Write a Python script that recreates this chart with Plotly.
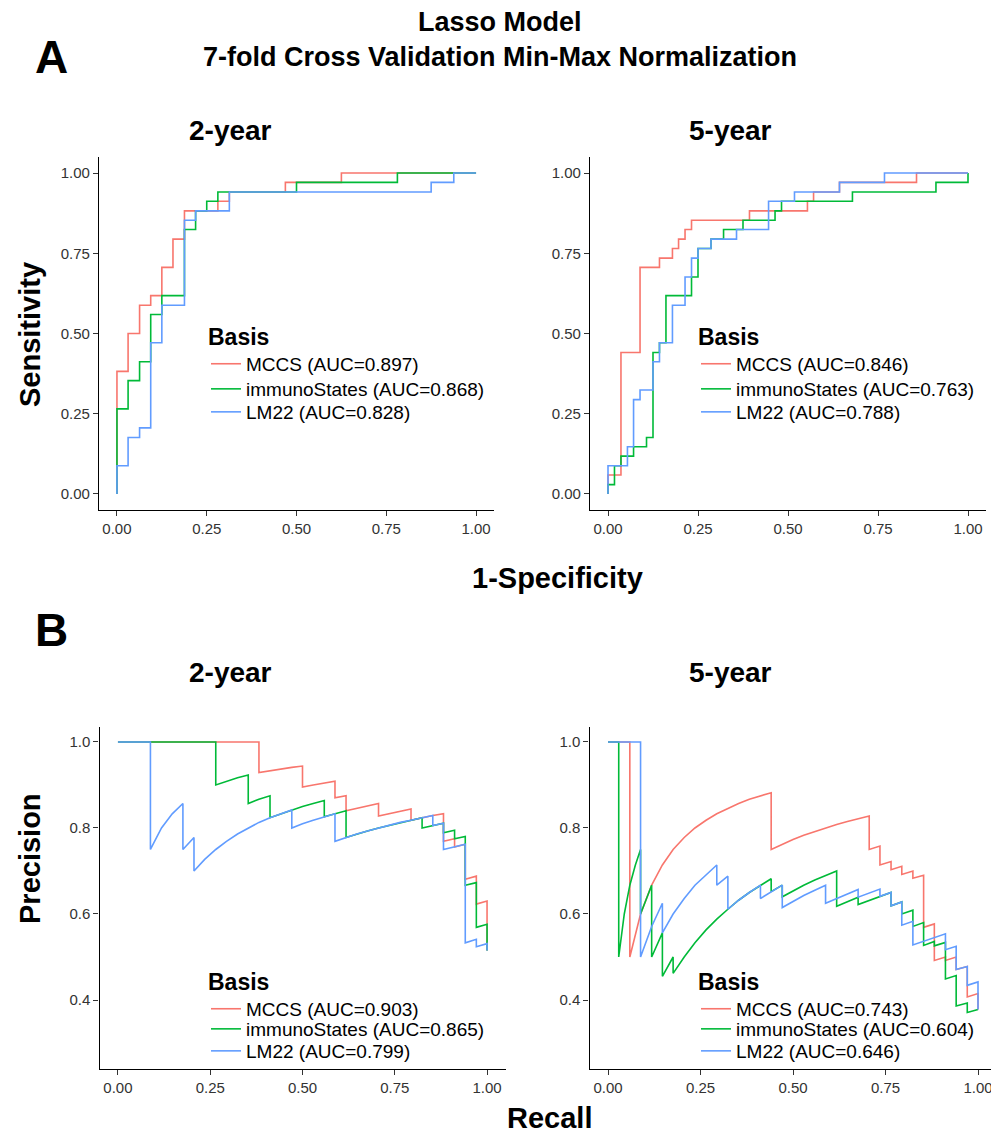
import plotly.graph_objects as go

# page offset of the plot inside the browser page (default body margin)
OFF = 8
W, H = 999 - OFF, 1139 - OFF

# ---------------- data ----------------
series_names = ["MCCS", "immunoStates", "LM22"]
series_colors = ["#F8766D", "#00BA38", "#619CFF"]

auc_roc_2y = [0.897, 0.868, 0.828]
auc_roc_5y = [0.846, 0.763, 0.788]
auc_pr_2y = [0.903, 0.865, 0.799]
auc_pr_5y = [0.743, 0.604, 0.646]

# ROC, 2-year (step curves: 1-specificity, sensitivity)
roc2_fpr_mccs = [0, 0, 0.031, 0.063, 0.094, 0.125, 0.156, 0.188, 0.281, 0.313, 0.469, 0.625, 1.0]
roc2_tpr_mccs = [0, 0.382, 0.5, 0.588, 0.618, 0.706, 0.794, 0.882, 0.912, 0.941, 0.971, 1.0, 1.0]
roc2_fpr_immuno = [0, 0, 0.031, 0.063, 0.094, 0.125, 0.188, 0.219, 0.25, 0.281, 0.5, 0.781, 1.0]
roc2_tpr_immuno = [0, 0.265, 0.353, 0.412, 0.559, 0.618, 0.824, 0.882, 0.912, 0.941, 0.971, 1.0, 1.0]
roc2_fpr_lm22 = [0, 0, 0.031, 0.063, 0.094, 0.125, 0.188, 0.219, 0.313, 0.875, 0.938, 1.0]
roc2_tpr_lm22 = [0, 0.088, 0.176, 0.206, 0.471, 0.588, 0.853, 0.882, 0.941, 0.971, 1.0, 1.0]

# ROC, 5-year
roc5_fpr_mccs = [0, 0, 0.036, 0.089, 0.143, 0.179, 0.196, 0.214, 0.232, 0.393, 0.554, 0.571, 0.643, 0.857, 1.0]
roc5_tpr_mccs = [0, 0.059, 0.441, 0.706, 0.735, 0.765, 0.794, 0.824, 0.853, 0.882, 0.912, 0.941, 0.971, 1.0, 1.0]
roc5_fpr_immuno = [0, 0, 0.018, 0.036, 0.071, 0.107, 0.125, 0.143, 0.161, 0.232, 0.25, 0.286, 0.321, 0.375,
                   0.464, 0.482, 0.679, 0.911, 1.0]
roc5_tpr_immuno = [0, 0.029, 0.088, 0.118, 0.147, 0.176, 0.441, 0.471, 0.618, 0.676, 0.765, 0.794, 0.824, 0.853,
                   0.882, 0.912, 0.941, 0.971, 1.0]
roc5_fpr_lm22 = [0, 0, 0.054, 0.071, 0.089, 0.125, 0.143, 0.179, 0.214, 0.232, 0.25, 0.286, 0.357, 0.446,
                 0.518, 0.643, 0.768, 1.0]
roc5_tpr_lm22 = [0, 0.088, 0.147, 0.294, 0.324, 0.412, 0.471, 0.588, 0.676, 0.735, 0.765, 0.794, 0.824, 0.912,
                 0.941, 0.971, 1.0, 1.0]

# Precision-recall, 2-year
pr2_rec_mccs = [0, 0.382, 0.382, 0.412, 0.441, 0.471, 0.5, 0.5, 0.529, 0.559, 0.588, 0.588, 0.618, 0.618,
                0.647, 0.676, 0.706, 0.706, 0.735, 0.765, 0.794, 0.794, 0.824, 0.853, 0.882, 0.882, 0.912,
                0.912, 0.941, 0.941, 0.971, 0.971, 1.0, 1.0]
pr2_prec_mccs = [1.0, 1.0, 0.929, 0.933, 0.938, 0.941, 0.944, 0.895, 0.9, 0.905, 0.909, 0.870, 0.875, 0.84,
                 0.846, 0.852, 0.857, 0.828, 0.833, 0.839, 0.844, 0.818, 0.824, 0.829, 0.833, 0.769, 0.775,
                 0.756, 0.762, 0.681, 0.688, 0.623, 0.630, 0.515]
pr2_rec_immuno = [0, 0.265, 0.265, 0.294, 0.324, 0.353, 0.353, 0.382, 0.412, 0.412, 0.441, 0.471, 0.5, 0.529,
                  0.559, 0.559, 0.588, 0.618, 0.618, 0.647, 0.676, 0.706, 0.735, 0.765, 0.794, 0.824, 0.824,
                  0.853, 0.882, 0.882, 0.912, 0.912, 0.941, 0.941, 0.971, 0.971, 1.0, 1.0]
pr2_prec_immuno = [1.0, 1.0, 0.9, 0.909, 0.917, 0.923, 0.857, 0.867, 0.875, 0.824, 0.833, 0.842, 0.85, 0.857,
                   0.864, 0.826, 0.833, 0.84, 0.778, 0.786, 0.793, 0.8, 0.806, 0.813, 0.818, 0.824, 0.8,
                   0.806, 0.811, 0.789, 0.795, 0.775, 0.780, 0.667, 0.673, 0.569, 0.576, 0.515]
pr2_rec_lm22 = [0, 0.088, 0.088, 0.118, 0.147, 0.176, 0.176, 0.206, 0.206, 0.235, 0.265, 0.294, 0.324, 0.353,
                0.382, 0.412, 0.441, 0.471, 0.471, 0.5, 0.529, 0.559, 0.588, 0.588, 0.618, 0.647, 0.676,
                0.706, 0.735, 0.765, 0.794, 0.824, 0.853, 0.853, 0.882, 0.882, 0.912, 0.941, 0.941, 0.971,
                0.971, 1.0, 1.0]
pr2_prec_lm22 = [1.0, 1.0, 0.75, 0.8, 0.833, 0.857, 0.75, 0.778, 0.7, 0.727, 0.75, 0.769, 0.786, 0.8,
                 0.813, 0.824, 0.833, 0.842, 0.8, 0.81, 0.818, 0.826, 0.833, 0.769, 0.778, 0.786, 0.793,
                 0.8, 0.806, 0.813, 0.818, 0.824, 0.829, 0.806, 0.811, 0.75, 0.756, 0.762, 0.533, 0.541,
                 0.524, 0.531, 0.515]

# Precision-recall, 5-year
pr5_rec_mccs = [0, 0.059, 0.059, 0.088, 0.118, 0.147, 0.176, 0.206, 0.235, 0.265, 0.294, 0.324, 0.353,
                0.382, 0.412, 0.441, 0.441, 0.471, 0.5, 0.529, 0.559, 0.588, 0.618, 0.647, 0.676, 0.706,
                0.706, 0.735, 0.735, 0.765, 0.765, 0.794, 0.794, 0.824, 0.824, 0.853, 0.853, 0.882, 0.882,
                0.912, 0.912, 0.941, 0.941, 0.971, 0.971, 1.0, 1.0]
pr5_prec_mccs = [1.0, 1.0, 0.5, 0.6, 0.667, 0.714, 0.75, 0.778, 0.8, 0.818, 0.833, 0.846, 0.857,
                 0.867, 0.875, 0.882, 0.75, 0.762, 0.773, 0.783, 0.792, 0.8, 0.808, 0.815, 0.821, 0.828,
                 0.75, 0.758, 0.714, 0.722, 0.703, 0.711, 0.692, 0.7, 0.683, 0.690, 0.569, 0.577, 0.492,
                 0.5, 0.492, 0.5, 0.471, 0.478, 0.407, 0.415, 0.378]
pr5_rec_immuno = [0, 0.029, 0.029, 0.044, 0.059, 0.074, 0.088, 0.088, 0.118, 0.118, 0.147, 0.147, 0.176,
                  0.176, 0.206, 0.235, 0.265, 0.294, 0.324, 0.353, 0.382, 0.412, 0.441, 0.441, 0.471, 0.471,
                  0.5, 0.529, 0.559, 0.588, 0.618, 0.618, 0.647, 0.676, 0.676, 0.706, 0.735, 0.765, 0.765,
                  0.794, 0.794, 0.824, 0.824, 0.853, 0.853, 0.882, 0.882, 0.912, 0.912, 0.941, 0.941, 0.971,
                  0.971, 1.0]
pr5_prec_immuno = [1.0, 1.0, 0.5, 0.6, 0.667, 0.714, 0.75, 0.6, 0.667, 0.5, 0.556, 0.455, 0.5,
                   0.462, 0.5, 0.533, 0.563, 0.588, 0.611, 0.632, 0.65, 0.667, 0.682, 0.652, 0.667, 0.64,
                   0.654, 0.667, 0.679, 0.690, 0.7, 0.618, 0.629, 0.639, 0.622, 0.632, 0.641, 0.65, 0.619,
                   0.628, 0.6, 0.609, 0.571, 0.58, 0.527, 0.536, 0.526, 0.534, 0.449, 0.457, 0.386, 0.393,
                   0.371, 0.378]
pr5_rec_lm22 = [0, 0.088, 0.088, 0.118, 0.147, 0.147, 0.176, 0.206, 0.235, 0.265, 0.294, 0.294, 0.324,
                0.324, 0.353, 0.382, 0.412, 0.412, 0.441, 0.471, 0.471, 0.5, 0.529, 0.559, 0.588, 0.588,
                0.618, 0.647, 0.676, 0.676, 0.706, 0.735, 0.735, 0.765, 0.765, 0.794, 0.794, 0.824, 0.824,
                0.853, 0.882, 0.912, 0.912, 0.941, 0.941, 0.971, 0.971, 1.0, 1.0]
pr5_prec_lm22 = [1.0, 1.0, 0.5, 0.571, 0.625, 0.556, 0.6, 0.636, 0.667, 0.692, 0.714, 0.667, 0.688,
                 0.611, 0.632, 0.65, 0.667, 0.636, 0.652, 0.667, 0.615, 0.630, 0.643, 0.655, 0.667, 0.625,
                 0.636, 0.647, 0.657, 0.639, 0.649, 0.658, 0.641, 0.65, 0.619, 0.628, 0.574, 0.583, 0.528,
                 0.537, 0.545, 0.554, 0.517, 0.525, 0.471, 0.478, 0.434, 0.442, 0.378]

roc_2y = [(roc2_fpr_mccs, roc2_tpr_mccs), (roc2_fpr_immuno, roc2_tpr_immuno), (roc2_fpr_lm22, roc2_tpr_lm22)]
roc_5y = [(roc5_fpr_mccs, roc5_tpr_mccs), (roc5_fpr_immuno, roc5_tpr_immuno), (roc5_fpr_lm22, roc5_tpr_lm22)]
pr_2y = [(pr2_rec_mccs, pr2_prec_mccs), (pr2_rec_immuno, pr2_prec_immuno), (pr2_rec_lm22, pr2_prec_lm22)]
pr_5y = [(pr5_rec_mccs, pr5_prec_mccs), (pr5_rec_immuno, pr5_prec_immuno), (pr5_rec_lm22, pr5_prec_lm22)]

# ---------------- layout helpers ----------------
FONT = "Liberation Sans, Arial, Helvetica, sans-serif"


def fx(p):
    """page pixel x -> paper fraction"""
    return (p - OFF) / W


def fy(p):
    """page pixel y -> paper fraction"""
    return 1 - (p - OFF) / H


fig = go.Figure()

# (data, aucs, axis suffix, shape, legend x (px), first legend top (px), item ys (px))
panels = [
    (roc_2y, auc_roc_2y, "", "hv", 206, 315, [366, 389, 412]),
    (roc_5y, auc_roc_5y, "2", "hv", 696, 315, [366, 389, 412]),
    (pr_2y, auc_pr_2y, "3", "linear", 206, 960, [1007, 1029, 1051]),
    (pr_5y, auc_pr_5y, "4", "linear", 696, 960, [1007, 1029, 1051]),
]

LEG_FONT = dict(family=FONT, size=19, color="black")
legend_layouts = {}
leg_idx = 0
for data, aucs, ax, shape, lx, top, item_ys in panels:
    for k, ((xs, ys), name, col, auc) in enumerate(zip(data, series_names, series_colors, aucs)):
        leg_idx += 1
        leg = "legend" if leg_idx == 1 else f"legend{leg_idx}"
        fig.add_trace(go.Scatter(
            x=xs, y=ys, mode="lines", line=dict(color=col, width=1.6, shape=shape),
            name=f"{name} (AUC={auc:.3f})", legend=leg, showlegend=True,
            xaxis="x" + ax, yaxis="y" + ax,
        ))
        ld = dict(bgcolor="rgba(0,0,0,0)", borderwidth=0, xanchor="left", visible=True,
                  font=LEG_FONT, itemclick=False, itemdoubleclick=False, x=fx(lx))
        if k == 0:
            ld.update(title=dict(text="Basis", font=dict(family=FONT, size=23, color="black", weight="bold")),
                      yanchor="top", y=fy(top))
        else:
            ld.update(yanchor="middle", y=fy(item_ys[k]))
        legend_layouts[leg] = ld

fig.update_layout(showlegend=True, **legend_layouts)

axis_common = dict(
    showgrid=False, zeroline=False, showline=True, linecolor="black", linewidth=1.2,
    ticks="outside", ticklen=5, tickwidth=1.1, tickcolor="#333333",
    tickfont=dict(family=FONT, size=15, color="#333333"), mirror=False,
)

ya_dom = [fy(510), fy(157)]
yb_dom = [fy(1068.8), fy(726.5)]
tick01 = [0, 0.25, 0.5, 0.75, 1.0]

fig.update_layout(
    xaxis=dict(domain=[fx(99), fx(494)], range=[-0.05, 1.05], tickvals=tick01, tickformat=".2f",
               anchor="y", **axis_common),
    yaxis=dict(domain=ya_dom, range=[-0.05, 1.05], tickvals=tick01, tickformat=".2f", anchor="x",
               **axis_common),
    xaxis2=dict(domain=[fx(590), fx(986)], range=[-0.05, 1.05], tickvals=tick01, tickformat=".2f",
                anchor="y2", **axis_common),
    yaxis2=dict(domain=ya_dom, range=[-0.05, 1.05], tickvals=tick01, tickformat=".2f", anchor="x2",
                **axis_common),
    xaxis3=dict(domain=[fx(99.5), fx(505.5)], range=[-0.05, 1.05], tickvals=tick01, tickformat=".2f",
                anchor="y3", **axis_common),
    yaxis3=dict(domain=yb_dom, range=[0.24, 1.036], tickvals=[0.4, 0.6, 0.8, 1.0], tickformat=".1f",
                anchor="x3", **axis_common),
    xaxis4=dict(domain=[fx(589.5), fx(996.5)], range=[-0.05, 1.05], tickvals=tick01, tickformat=".2f",
                anchor="y4", **axis_common),
    yaxis4=dict(domain=yb_dom, range=[0.24, 1.036], tickvals=[0.4, 0.6, 0.8, 1.0], tickformat=".1f",
                anchor="x4", **axis_common),
)

annos = [
    ("Lasso Model", 500, 22, 27, 0),
    ("7-fold Cross Validation Min-Max Normalization", 500, 57, 27, 0),
    ("A", 51, 57, 46, 0),
    ("B", 51, 630, 46, 0),
    ("2-year", 230, 131, 28, 0),
    ("5-year", 730, 131, 28, 0),
    ("2-year", 230, 672, 28, 0),
    ("5-year", 730, 672, 28, 0),
    ("Sensitivity", 30, 335, 29, -90),
    ("1-Specificity", 557, 578, 29, 0),
    ("Precision", 30, 859, 29, -90),
    ("Recall", 549, 1118, 29, 0),
]
fig.update_layout(annotations=[
    dict(text=t, x=fx(x), y=fy(y), xref="paper", yref="paper", xanchor="center", yanchor="middle",
         showarrow=False, textangle=a, font=dict(family=FONT, size=s, color="black", weight="bold"))
    for t, x, y, s, a in annos
])

fig.update_layout(
    width=W, height=H, margin=dict(l=0, r=0, t=0, b=0),
    paper_bgcolor="white", plot_bgcolor="white",
    font=dict(family=FONT, color="black"),
)

fig.write_html("out.html")
